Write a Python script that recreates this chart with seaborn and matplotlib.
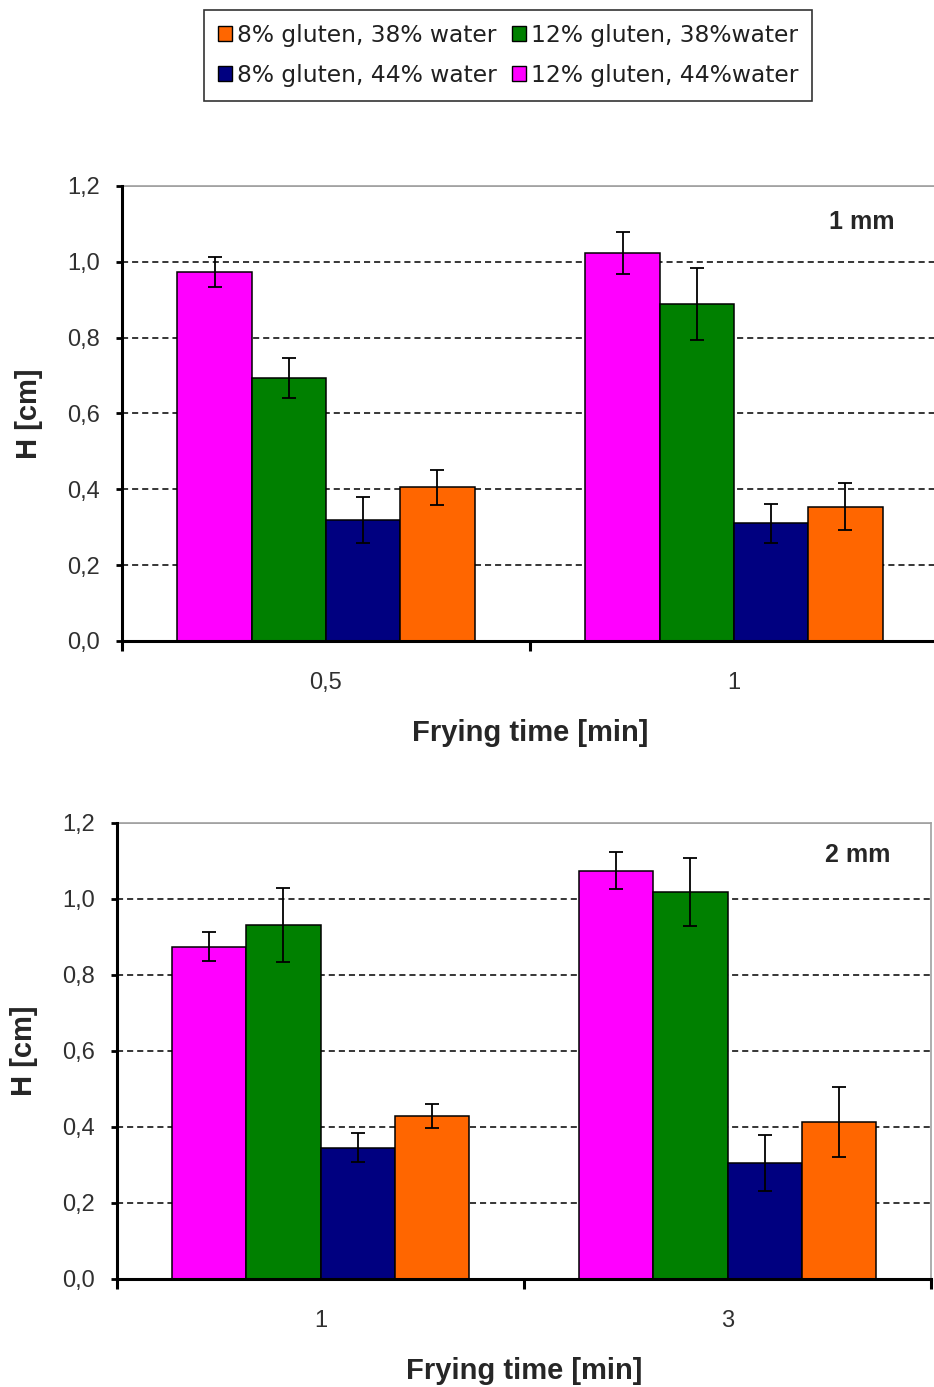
import matplotlib
matplotlib.use("Agg")
import matplotlib.pyplot as plt
import seaborn as sns
import pandas as pd
import numpy as np
from matplotlib.ticker import FixedLocator, FuncFormatter
from matplotlib.patches import Patch

sns.set_theme(style="white")
plt.rcParams['font.family'] = ['Liberation Sans', 'DejaVu Sans']

series = ["12% gluten, 44%water", "12% gluten, 38%water",
          "8% gluten, 44% water", "8% gluten, 38% water"]
colors = ["#FF00FF", "#008000", "#000080", "#FF6600"]
legend_order = [3, 2, 1, 0]  # column-first: orange, navy | green, magenta

times_1mm = ["0,5", "1"]
h_1mm = [[0.973, 1.024], [0.694, 0.890], [0.319, 0.310], [0.405, 0.354]]
err_1mm = [[0.040, 0.055], [0.052, 0.095], [0.060, 0.051], [0.046, 0.062]]

times_2mm = ["1", "3"]
h_2mm = [[0.875, 1.075], [0.932, 1.018], [0.346, 0.306], [0.429, 0.414]]
err_2mm = [[0.039, 0.049], [0.098, 0.090], [0.039, 0.074], [0.032, 0.092]]

panel_labels = ["1 mm", "2 mm"]
yticks = [0.0, 0.2, 0.4, 0.6, 0.8, 1.0, 1.2]

fig = plt.figure(figsize=(9.34, 13.87), dpi=100)
ax1 = fig.add_axes([122/934, 1 - 641/1387, 816/934, 455/1387])
ax2 = fig.add_axes([117/934, 1 - 1279/1387, 814/934, 456/1387])

def panel(ax, times, h, err, label, lx, ly):
    rows = []
    for s, vals in zip(series, h):
        for t, v in zip(times, vals):
            rows.append({"time": t, "series": s, "H": v})
    df = pd.DataFrame(rows)
    sns.barplot(data=df, x="time", y="H", hue="series", order=times,
                hue_order=series, palette=colors, width=0.728, gap=0,
                edgecolor="black", linewidth=1.1, saturation=1, errorbar=None,
                ax=ax, legend=False, zorder=3)
    bar_conts = list(ax.containers)
    for si, cont in enumerate(bar_conts):
        xs = [p.get_x() + p.get_width() / 2 for p in cont.patches]
        ys = [p.get_height() for p in cont.patches]
        ax.errorbar(xs, ys, yerr=err[si], fmt="none", ecolor="black",
                    elinewidth=1.3, capsize=4.7, capthick=1.3, zorder=4)
    ax.set_ylim(0, 1.2)
    ax.set_xlim(-0.5, 1.5)
    ax.set_yticks(yticks)
    ax.yaxis.set_major_formatter(FuncFormatter(lambda v, p: f"{v:.1f}".replace(".", ",")))
    for yv in yticks[1:-1]:
        ax.axhline(yv, color="black", linestyle=(0, (4, 2.6)), linewidth=1.1, zorder=1)
    ax.axhline(1.2, color="#A0A0A0", linewidth=1.2, zorder=1)
    ax.xaxis.set_minor_locator(FixedLocator([-0.5, 0.5, 1.5]))
    ax.tick_params(axis="x", which="major", length=0, labelsize=17, pad=22, colors="black")
    ax.tick_params(axis="x", which="minor", length=7, width=2.2, direction="out", bottom=True, color="black")
    ax.tick_params(axis="y", which="major", length=4, width=2, direction="out", left=True,
                   labelsize=17, pad=12, colors="black")
    for lab in ax.get_yticklabels() + ax.get_xticklabels():
        lab.set_color("#303030")
    for side in ["left", "bottom"]:
        ax.spines[side].set_color("black")
        ax.spines[side].set_linewidth(2.2)
        ax.spines[side].set_zorder(5)
    for side in ["top", "right"]:
        ax.spines[side].set_color("#A0A0A0")
        ax.spines[side].set_linewidth(1.2)
    ax.set_xlabel("Frying time [min]", fontsize=21, fontweight="bold", labelpad=18)
    ax.set_ylabel("H [cm]", fontsize=21, fontweight="bold", labelpad=17)
    ax.text(lx, ly, label, transform=ax.transAxes, fontsize=18,
            fontweight="bold", ha="center", va="center")

panel(ax1, times_1mm, h_1mm, err_1mm, panel_labels[0], 0.907, 0.921)
panel(ax2, times_2mm, h_2mm, err_2mm, panel_labels[1], 0.910, 0.930)

handles = [Patch(facecolor=colors[i], edgecolor="black", linewidth=1.0) for i in legend_order]
labels = [series[i] for i in legend_order]
leg = fig.legend(handles, labels, loc="center", bbox_to_anchor=(508/934, 1 - 55.5/1387),
                 ncol=2, frameon=True, handlelength=0.6, handleheight=0.6,
                 handletextpad=0.22, columnspacing=0.65, labelspacing=0.72,
                 borderpad=0.6, borderaxespad=0, fancybox=False,
                 prop={"family": ["DejaVu Sans"], "size": 16.8})
leg.get_frame().set_edgecolor("black")
leg.get_frame().set_linewidth(1.2)
for t in leg.get_texts():
    t.set_color("#202020")

fig.savefig("out.png", dpi=100)
